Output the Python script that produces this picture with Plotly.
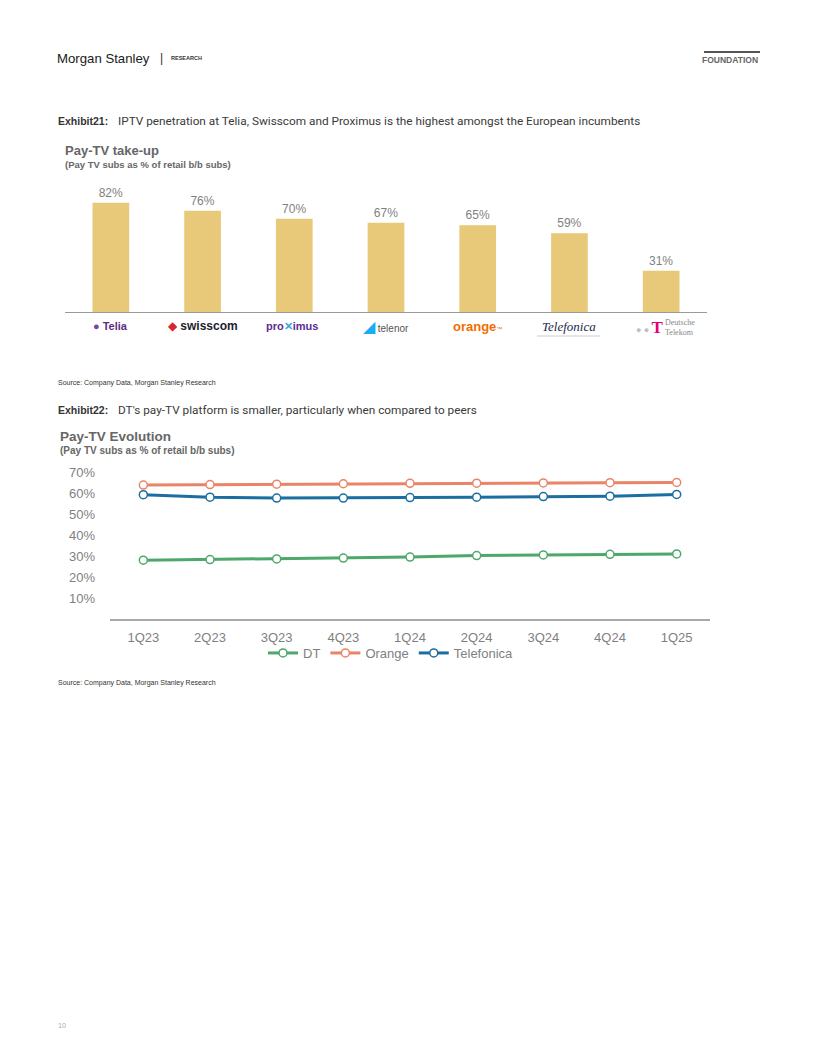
import plotly.graph_objects as go

# ---------------- data ----------------
companies = ["Telia", "Swisscom", "Proximus", "Telenor", "Orange", "Telefonica", "Deutsche Telekom"]
takeup = [82, 76, 70, 67, 65, 59, 31]

quarters = ["1Q23", "2Q23", "3Q23", "4Q23", "1Q24", "2Q24", "3Q24", "4Q24", "1Q25"]
dt_vals = [28.0, 28.3, 28.6, 29.0, 29.5, 30.2, 30.5, 30.8, 31.0]
orange_vals = [63.8, 64.0, 64.2, 64.4, 64.6, 64.7, 64.8, 64.9, 65.0]
telefonica_vals = [59.2, 58.0, 57.6, 57.6, 57.8, 58.0, 58.3, 58.5, 59.3]
y_ticks = [10, 20, 30, 40, 50, 60, 70]

# page body has an 8px margin: the figure starts at (8, 8)
OFF = 8
W, H = 800, 1040
def px(x): return (x - OFF) / W
def py(y): return 1 - (y - OFF) / H

SANS = "Liberation Sans, Arial, sans-serif"
NARROW = "Liberation Sans Narrow, Arial Narrow, Liberation Sans, sans-serif"
GRAY = "#7f7f7f"

fig = go.Figure()

# ---- Exhibit 21 : bars ----
fig.add_trace(go.Bar(
    x=companies, y=takeup, xaxis="x", yaxis="y",
    marker=dict(color="#E8C97A", line=dict(width=0)),
    text=[f"{v}%" for v in takeup], textposition="outside",
    textfont=dict(family=SANS, size=12, color=GRAY),
    cliponaxis=False, showlegend=False, width=0.4,
))

# ---- Exhibit 22 : lines ----
series = [("DT", dt_vals, "#4EA86B"), ("Orange", orange_vals, "#E98467"),
          ("Telefonica", telefonica_vals, "#1B6EA0")]
for name, vals, col in series:
    fig.add_trace(go.Scatter(
        x=quarters, y=vals, name=name, xaxis="x2", yaxis="y2",
        mode="lines+markers",
        line=dict(color=col, width=3),
        marker=dict(size=8, color="white", line=dict(color=col, width=1.5)),
    ))

fig.update_layout(
    width=W, height=H, margin=dict(l=0, r=0, t=0, b=0),
    paper_bgcolor="white", plot_bgcolor="white",
    bargap=0.6,
    xaxis=dict(domain=[px(65), px(707)], anchor="y", type="category",
               range=[-0.5, 6.5], showticklabels=False, ticks="",
               showline=True, linecolor="#9a9a9a", linewidth=1.3, showgrid=False),
    yaxis=dict(domain=[py(312), py(192)], anchor="x", range=[0, 90],
               visible=False, showgrid=False),
    xaxis2=dict(domain=[px(110), px(710)], anchor="y2", type="category",
                range=[-0.5, 8.5], ticks="", showline=True, linecolor="#a8a8a8",
                linewidth=1.5, showgrid=False, ticklabelstandoff=6,
                tickfont=dict(family=SANS, size=13, color=GRAY)),
    yaxis2=dict(domain=[py(619), py(461.5)], anchor="x2", range=[0, 75],
                tickvals=y_ticks, ticktext=[f"{v}%" for v in y_ticks],
                showline=False, showgrid=False, zeroline=False, ticks="",
                ticklabelstandoff=14,
                tickfont=dict(family=SANS, size=13, color=GRAY)),
    legend=dict(orientation="h", x=px(391), xanchor="center", y=py(653),
                yanchor="middle", font=dict(family=SANS, size=13, color=GRAY),
                itemwidth=30, tracegroupgap=0, bgcolor="rgba(0,0,0,0)"),
)

ann = []
def txt(x, y, s, size, color="#333", family=SANS, xanchor="left", yanchor="middle"):
    ann.append(dict(x=px(x), y=py(y), xref="paper", yref="paper", text=s,
                    showarrow=False, xanchor=xanchor, yanchor=yanchor,
                    font=dict(family=family, size=size, color=color)))

# header
txt(55, 58, "Morgan Stanley", 13.2, "#1a1a1a", "Liberation Sans, Arial, sans-serif")
txt(158, 58, "|", 12, "#333")
txt(169, 58, "<b>RESEARCH</b>", 5.5, "#333")
txt(760, 59.5, "<b>FOUNDATION</b>", 8.5, "#666", xanchor="right")

# exhibit 21 titles
txt(56, 121, "<b>Exhibit21:</b>", 10.5, "#333", NARROW)
txt(116, 121, "IPTV penetration at Telia, Swisscom and Proximus is the highest amongst the European incumbents",
    11.8, "#3a3a3a", "Roboto, sans-serif")
txt(63, 151, "<b>Pay-TV take-up</b>", 13, "#666")
txt(63, 164, "<b>(Pay TV subs as % of retail b/b subs)</b>", 9.5, "#666")
txt(56, 383, "Source: Company Data, Morgan Stanley Research", 7, "#333", NARROW)

# exhibit 22 titles
txt(56, 410, "<b>Exhibit22:</b>", 10.5, "#333", NARROW)
txt(116, 410, "DT's pay-TV platform is smaller, particularly when compared to peers",
    11.8, "#3a3a3a", "Roboto, sans-serif")
txt(58, 436, "<b>Pay-TV Evolution</b>", 13.5, "#666")
txt(58, 450, "<b>(Pay TV subs as % of retail b/b subs)</b>", 10, "#666")
txt(56, 683, "Source: Company Data, Morgan Stanley Research", 7, "#333", NARROW)

# page number
txt(56, 1025, "10", 7, "#aaaaaa")

# logos (as styled text under each bar)
logos = {
    "Telia": ("<span style='color:#7B3FB0'>●</span> <b>Telia</b>", "#5A2D82", 11, SANS, 0),
    "Swisscom": ("<span style='color:#D7262E'>◆</span> <b>swisscom</b>", "#1d1d2e", 12, SANS, 0),
    "Proximus": ("<b>pro<span style='color:#3AA9E0'>✕</span>imus</b>", "#5C2D91", 11, SANS, -2),
    "Telenor": ("<span style='color:#19AAF8;font-size:16px'>◢</span> telenor", "#555", 10, SANS, 0),
    "Orange": ("<b>orange</b><span style='font-size:6px'>™</span>", "#F16E00", 13, SANS, 0),
    "Telefonica": ("<i>Telefonica</i>", "#1a2a4a", 13, "Liberation Serif, serif", 0),
}
for c in companies:
    if c in logos:
        s, col, size, fam, xs = logos[c]
        ann.append(dict(x=c, y=py(326), xref="x", yref="paper", text=s, showarrow=False,
                        xanchor="center", yanchor="middle", xshift=xs,
                        font=dict(family=fam, size=size, color=col)))
ann.append(dict(x="Deutsche Telekom", y=py(327), xref="x", yref="paper",
                text="<span style='color:#c0c0c0;font-size:9px'>● ● </span><b>T</b>",
                showarrow=False, xanchor="center", yanchor="middle", xshift=-12,
                font=dict(family="Liberation Serif, serif", size=17, color="#E20074")))
ann.append(dict(x="Deutsche Telekom", y=py(327), xref="x", yref="paper",
                text="Deutsche<br>Telekom", showarrow=False, xanchor="left",
                yanchor="middle", xshift=2, align="left",
                font=dict(family="Liberation Serif, serif", size=8, color="#888")))

fig.update_layout(annotations=ann)

# header rule above FOUNDATION and Telefonica underline
fig.add_shape(type="line", xref="paper", yref="paper", x0=px(704), x1=px(760),
              y0=py(52), y1=py(52), line=dict(color="#555", width=2))
fig.add_shape(type="line", xref="paper", yref="paper", x0=px(537), x1=px(600),
              y0=py(336), y1=py(336), line=dict(color="#cccccc", width=1))

fig.write_html("out.html")
